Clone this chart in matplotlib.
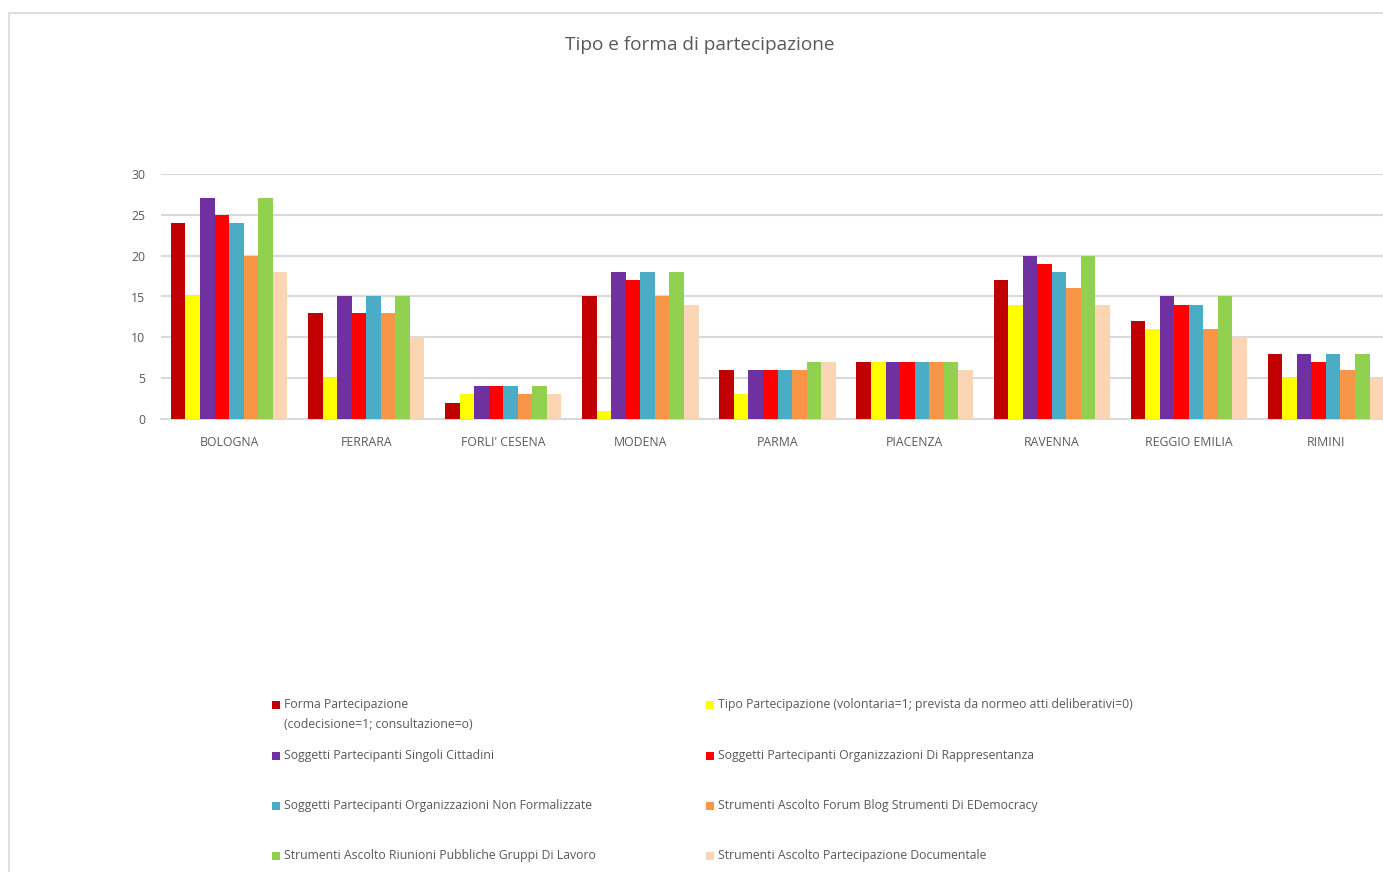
import numpy as np
import matplotlib.pyplot as plt
from matplotlib import font_manager
from matplotlib.patches import Rectangle

# Data
categories = ['BOLOGNA', 'FERRARA', "FORLI' CESENA", 'MODENA', 'PARMA',
              'PIACENZA', 'RAVENNA', 'REGGIO EMILIA', 'RIMINI']
series_names = [
    'Forma Partecipazione\n(codecisione=1; consultazione=o)',
    'Tipo Partecipazione (volontaria=1; prevista da normeo atti deliberativi=0)',
    'Soggetti Partecipanti Singoli Cittadini',
    'Soggetti Partecipanti Organizzazioni Di Rappresentanza',
    'Soggetti Partecipanti Organizzazioni Non Formalizzate',
    'Strumenti Ascolto Forum Blog Strumenti Di EDemocracy',
    'Strumenti Ascolto Riunioni Pubbliche Gruppi Di Lavoro',
    'Strumenti Ascolto Partecipazione Documentale',
]
forma = [24, 13, 2, 15, 6, 7, 17, 12, 8]
tipo = [15, 5, 3, 1, 3, 7, 14, 11, 5]
singoli = [27, 15, 4, 18, 6, 7, 20, 15, 8]
rappresentanza = [25, 13, 4, 17, 6, 7, 19, 14, 7]
non_formalizzate = [24, 15, 4, 18, 6, 7, 18, 14, 8]
forum_blog = [20, 13, 3, 15, 6, 7, 16, 11, 6]
riunioni = [27, 15, 4, 18, 7, 7, 20, 15, 8]
documentale = [18, 10, 3, 14, 7, 6, 14, 10, 5]
series_values = [forma, tipo, singoli, rappresentanza, non_formalizzate,
                 forum_blog, riunioni, documentale]
colors = ['#C00000', '#FFFF00', '#7030A0', '#FF0000', '#4BACC6',
          '#F79646', '#92D050', '#FCD5B5']

installed = {f.name for f in font_manager.fontManager.ttflist}
if 'Liberation Sans Narrow' in installed:
    plt.rcParams['font.family'] = ['Liberation Sans Narrow', 'DejaVu Sans']
else:
    plt.rcParams['font.family'] = ['Open Sans', 'DejaVu Sans']

text_gray = '#595959'
grid_gray = '#D9D9D9'

fig = plt.figure(figsize=(13.83, 8.72), dpi=100)

# chart border (partly cut off on the right and bottom)
fig.add_artist(Rectangle((9 / 1383, -0.1), 1.2, 1 - 13 / 872 + 0.1,
                         transform=fig.transFigure, fill=False,
                         edgecolor=grid_gray, linewidth=1.2))

ax = fig.add_axes([160.5 / 1383, 1 - 419 / 872, 1234 / 1383, 245 / 872])

x = np.arange(len(categories))
bar_w = 0.106
n = len(series_values)
for i, (vals, col) in enumerate(zip(series_values, colors)):
    offs = (i - (n - 1) / 2) * bar_w
    ax.bar(x + offs, vals, width=bar_w, color=col, linewidth=0, zorder=3)

ax.set_xlim(-0.5, len(categories) - 0.5)
ax.set_ylim(0, 30)
ax.set_yticks(range(0, 31, 5))
ax.set_xticks(x)
ax.set_xticklabels(categories)
ax.yaxis.grid(True, color=grid_gray, linewidth=1.5, zorder=0)
ax.set_axisbelow(True)
for s in ['top', 'right', 'left']:
    ax.spines[s].set_visible(False)
ax.spines['bottom'].set_color(grid_gray)
ax.spines['bottom'].set_linewidth(1.5)
ax.tick_params(axis='both', length=0, colors=text_gray, labelsize=8.8)
ax.tick_params(axis='x', pad=12)
ax.tick_params(axis='y', pad=11)

fig.text(700 / 1383, 1 - 45 / 872, 'Tipo e forma di partecipazione',
         ha='center', va='center', fontsize=13.7, color=text_gray)

# legend, two columns, fixed row spacing
col_x = [272, 706]
row_y = [705, 756, 806, 856]
for i, (name, col) in enumerate(zip(series_names, colors)):
    cx = col_x[i % 2]
    cy = row_y[i // 2]
    fig.add_artist(Rectangle((cx / 1383, 1 - (cy + 4) / 872), 8 / 1383, 8 / 872,
                             transform=fig.transFigure, facecolor=col,
                             edgecolor='none'))
    fig.text((cx + 12) / 1383, 1 - (cy - 7) / 872, name, ha='left', va='top',
             fontsize=8.8, color=text_gray, linespacing=1.65)

fig.savefig('out.png', dpi=100)
